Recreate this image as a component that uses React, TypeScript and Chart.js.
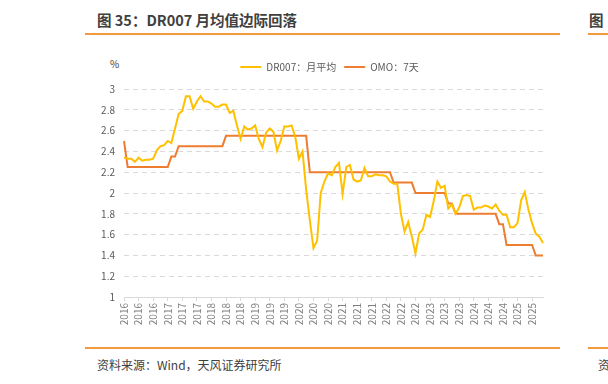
import React, { useEffect, useRef } from "react";
import { Chart, registerables } from "chart.js";

Chart.register(...registerables);

const title = "图 35：DR007 月均值边际回落";
const source = "资料来源：Wind，天风证券研究所";
const seriesNames = ["DR007：月平均", "OMO：7天"];

const startYear = 2016;
const monthCount = 116; // 2016-01 .. 2025-08
const categories: string[] = [];
for (let i = 0; i < monthCount; i++) {
  const y = startYear + Math.floor(i / 12);
  const m = (i % 12) + 1;
  categories.push(`${y}-${m < 10 ? "0" + m : m}`);
}

const tickYears = [
  "2016", "2016", "2016", "2017", "2017", "2017", "2018", "2018", "2018",
  "2019", "2019", "2019", "2020", "2020", "2020", "2021", "2021", "2021",
  "2022", "2022", "2022", "2023", "2023", "2023", "2024", "2024", "2024",
  "2025", "2025",
];

const yTicks = [1, 1.2, 1.4, 1.6, 1.8, 2, 2.2, 2.4, 2.6, 2.8, 3];

const dr007 = [
  2.34, 2.33, 2.33, 2.3, 2.34, 2.31, 2.32, 2.32, 2.33, 2.41, 2.45, 2.46,
  2.5, 2.48, 2.62, 2.76, 2.79, 2.93, 2.93, 2.81, 2.88, 2.93, 2.88, 2.88,
  2.86, 2.83, 2.83, 2.85, 2.85, 2.77, 2.79, 2.65, 2.52, 2.64, 2.61, 2.62,
  2.65, 2.52, 2.44, 2.58, 2.62, 2.59, 2.41, 2.5, 2.64, 2.64, 2.65, 2.54,
  2.33, 2.4, 2.03, 1.74, 1.47, 1.54, 2.0, 2.11, 2.19, 2.17, 2.25, 2.29,
  1.99, 2.25, 2.27, 2.13, 2.11, 2.12, 2.24, 2.16, 2.16, 2.18, 2.17, 2.17,
  2.16, 2.11, 2.09, 2.09, 1.8, 1.63, 1.72, 1.58, 1.42, 1.61, 1.65, 1.79,
  1.77, 1.92, 2.11, 2.05, 2.07, 1.85, 1.89, 1.8, 1.86, 1.97, 1.98, 1.97,
  1.84, 1.86, 1.86, 1.88, 1.87, 1.85, 1.89, 1.83, 1.79, 1.79, 1.67, 1.67,
  1.71, 1.93, 2.01, 1.84, 1.71, 1.61, 1.58, 1.52,
];

const omo = [
  2.5, 2.25, 2.25, 2.25, 2.25, 2.25, 2.25, 2.25, 2.25, 2.25, 2.25, 2.25,
  2.25, 2.35, 2.35, 2.45, 2.45, 2.45, 2.45, 2.45, 2.45, 2.45, 2.45, 2.45,
  2.45, 2.45, 2.45, 2.45, 2.55, 2.55, 2.55, 2.55, 2.55, 2.55, 2.55, 2.55,
  2.55, 2.55, 2.55, 2.55, 2.55, 2.55, 2.55, 2.55, 2.55, 2.55, 2.55, 2.55,
  2.55, 2.55, 2.55, 2.2, 2.2, 2.2, 2.2, 2.2, 2.2, 2.2, 2.2, 2.2,
  2.2, 2.2, 2.2, 2.2, 2.2, 2.2, 2.2, 2.2, 2.2, 2.2, 2.2, 2.2,
  2.2, 2.2, 2.1, 2.1, 2.1, 2.1, 2.1, 2.1, 2.0, 2.0, 2.0, 2.0,
  2.0, 2.0, 2.0, 2.0, 2.0, 1.9, 1.9, 1.8, 1.8, 1.8, 1.8, 1.8,
  1.8, 1.8, 1.8, 1.8, 1.8, 1.8, 1.8, 1.7, 1.7, 1.5, 1.5, 1.5,
  1.5, 1.5, 1.5, 1.5, 1.5, 1.4, 1.4, 1.4,
];

const FONT = "'Noto Sans CJK SC', 'Noto Sans', sans-serif";
const YELLOW = "#FFC000";
const ORANGE = "#ED7D31";
const RULE = "#F39A3E";

const legendTweak = {
  id: "legendTweak",
  beforeInit(chart: any) {
    const legend = chart.legend;
    if (!legend) return;
    const origFit = legend.fit;
    legend.fit = function () {
      origFit.call(this);
      this.height += 9;
    };
  },
  afterLayout(chart: any) {
    const legend = chart.legend;
    if (!legend) return;
    legend.left += 18;
    legend.right += 18;
    legend.top += 2;
  },
};

export default function App() {
  const canvasRef = useRef<HTMLCanvasElement | null>(null);

  useEffect(() => {
    document.body.style.margin = "0";
    const canvas = canvasRef.current;
    if (!canvas) return;
    const chart = new Chart(canvas, {
      type: "line",
      data: {
        labels: categories,
        datasets: [
          {
            label: seriesNames[0],
            data: dr007,
            borderColor: YELLOW,
            backgroundColor: YELLOW,
            borderWidth: 2,
            pointRadius: 0,
            tension: 0,
            pointStyle: "line",
          },
          {
            label: seriesNames[1],
            data: omo,
            borderColor: ORANGE,
            backgroundColor: ORANGE,
            borderWidth: 2,
            pointRadius: 0,
            tension: 0,
            pointStyle: "line",
          },
        ],
      },
      plugins: [legendTweak],
      options: {
        animation: false,
        responsive: false,
        maintainAspectRatio: false,
        layout: { padding: { top: 0, right: 17, left: 0, bottom: 0 } },
        plugins: {
          tooltip: { enabled: false },
          legend: {
            display: true,
            position: "top",
            labels: {
              usePointStyle: true,
              pointStyleWidth: 21,
              boxHeight: 10,
              color: "#595959",
              font: { family: FONT, size: 10 },
              padding: 8,
            },
          },
        },
        scales: {
          x: {
            type: "category",
            grid: {
              display: true,
              drawOnChartArea: false,
              drawTicks: true,
              tickLength: 4,
              color: (ctx: any) => (ctx.index % 4 === 0 ? "#D9D9D9" : "rgba(0,0,0,0)"),
            },
            border: { display: true, color: "#D9D9D9", width: 1 },
            ticks: {
              autoSkip: false,
              minRotation: 90,
              maxRotation: 90,
              padding: 2,
              color: "#7F7F7F",
              font: { family: FONT, size: 10 },
              callback: (_v: any, index: number) =>
                index % 4 === 0 ? tickYears[index / 4] : "",
            },
            afterFit: (scale: any) => {
              scale.height = 40;
            },
          },
          y: {
            min: 1,
            max: 3,
            afterBuildTicks: (scale: any) => {
              scale.ticks = yTicks.map((v) => ({ value: v }));
            },
            grid: {
              color: "#D9D9D9",
              drawTicks: false,
              lineWidth: 1,
            },
            border: { display: false, dash: [5, 4] },
            ticks: {
              padding: 9,
              color: "#595959",
              font: { family: FONT, size: 10 },
              callback: (v: any) => String(Math.round(Number(v) * 10) / 10),
            },
            afterFit: (scale: any) => {
              scale.width = 44;
            },
          },
        },
      },
    });
    return () => chart.destroy();
  }, []);

  return (
    <div
      style={{
        position: "fixed",
        left: 0,
        top: 0,
        width: 608,
        height: 384,
        background: "#fff",
        overflow: "hidden",
        fontFamily: FONT,
      }}
    >
      <div
        style={{
          position: "absolute",
          left: 97,
          top: 9,
          fontSize: 14.5,
          fontWeight: 700,
          color: "#404040",
          whiteSpace: "nowrap",
          lineHeight: "22px",
        }}
      >
        {title}
      </div>
      <div style={{ position: "absolute", left: 85, top: 33, width: 475, height: 2, background: RULE }} />
      <div
        style={{
          position: "absolute",
          left: 589,
          top: 9,
          fontSize: 14.5,
          fontWeight: 700,
          color: "#404040",
          lineHeight: "22px",
        }}
      >
        图
      </div>
      <div style={{ position: "absolute", left: 588, top: 33, width: 20, height: 2, background: RULE }} />

      <div
        style={{
          position: "absolute",
          left: 110,
          top: 57,
          fontSize: 10,
          color: "#404040",
          lineHeight: "14px",
        }}
      >
        %
      </div>

      <canvas
        ref={canvasRef}
        width={480}
        height={285}
        style={{ position: "absolute", left: 80, top: 52, width: 480, height: 285 }}
      />

      <div style={{ position: "absolute", left: 85, top: 347, width: 475, height: 1.5, background: RULE }} />
      <div style={{ position: "absolute", left: 588, top: 347, width: 20, height: 1.5, background: RULE }} />
      <div
        style={{
          position: "absolute",
          left: 97,
          top: 356,
          fontSize: 12,
          color: "#404040",
          whiteSpace: "nowrap",
          lineHeight: "18px",
        }}
      >
        {source}
      </div>
      <div
        style={{
          position: "absolute",
          left: 598,
          top: 356,
          fontSize: 12,
          color: "#404040",
          lineHeight: "18px",
        }}
      >
        资
      </div>
    </div>
  );
}
